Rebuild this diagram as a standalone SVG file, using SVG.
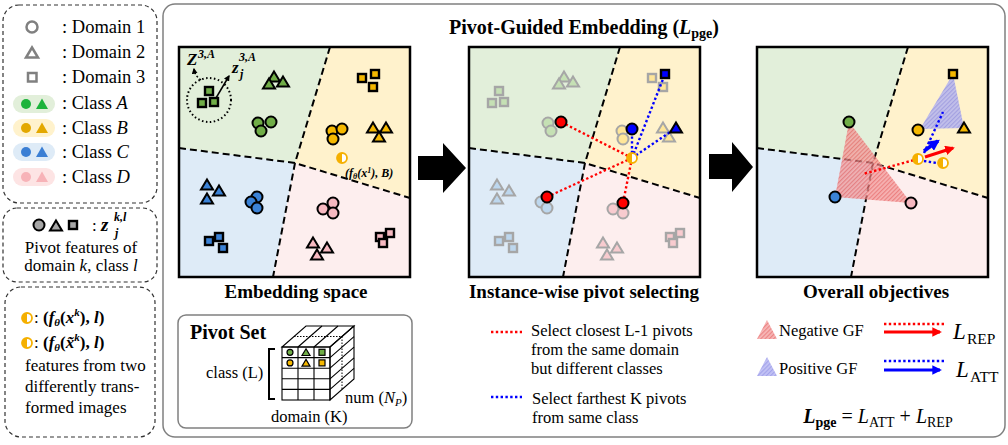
<svg xmlns="http://www.w3.org/2000/svg" xmlns:xlink="http://www.w3.org/1999/xlink" width="1008" height="445" viewBox="0 0 1008 445">
<style>
text{font-family:"Liberation Serif","Times New Roman",serif;fill:#000}
.b{font-weight:bold}
.i{font-style:italic}
.k{stroke:#000;stroke-width:2}
.g{fill:#70ad47}.y{fill:#f5b800}.bl{fill:#3b82d6}.p{fill:#f6b8c0}
.f{stroke:#a6a6a6;stroke-width:2}
.fg{fill:#c5e0b4}.fy{fill:#ffe699}.fb{fill:#bdd7ee}.fp{fill:#f8cbcf}
.rd{fill:none;stroke:#f00;stroke-width:2.4;stroke-dasharray:2.4 2.4}
.bd{fill:none;stroke:#00f;stroke-width:2.4;stroke-dasharray:2.4 2.4}
.dl{fill:none;stroke:#333;stroke-width:1.2;stroke-dasharray:4 3}
.frame{fill:none;stroke:#000;stroke-width:2.5}
.gl{fill:none;stroke:#000;stroke-width:1.1}
</style>
<defs>
<circle id="c" r="5.5"/>
<path id="t" d="M0,-5.5 L6,4.5 L-6,4.5 Z"/>
<rect id="s" x="-4" y="-4" width="8" height="8" stroke-width="2.4"/>
<g id="h"><circle r="5" fill="#fff"/><path d="M0,-5 A5,5 0 0 0 0,5 Z" fill="#f5b000"/><circle r="5" fill="none" stroke="#f5b000" stroke-width="1.8"/></g>
<g id="bg">
<polygon points="0,0 151,0 116,116 0,101" fill="#e2efda"/>
<polygon points="151,0 231,0 231,151 116,116" fill="#fff2cc"/>
<polygon points="0,101 116,116 94,230 0,230" fill="#deebf7"/>
<polygon points="116,116 231,151 231,230 94,230" fill="#fdeeee"/>
<path d="M151,0 L116,116 L94,230 M0,101 L116,116 L231,151" fill="none" stroke="#000" stroke-width="2" stroke-dasharray="7 4"/>
</g>
<pattern id="hr" width="3" height="3" patternUnits="userSpaceOnUse" patternTransform="rotate(45)"><rect width="3" height="3" fill="#f4a0a0"/><rect width="1.2" height="3" fill="#e65c5c"/></pattern>
<pattern id="hb" width="3" height="3" patternUnits="userSpaceOnUse" patternTransform="rotate(45)"><rect width="3" height="3" fill="#b4b4f2"/><rect width="1.2" height="3" fill="#8c8ce6"/></pattern>
<marker id="ar" viewBox="0 0 10 10" refX="8" refY="5" markerWidth="3.2" markerHeight="3.2" orient="auto"><path d="M0,0 L10,5 L0,10 Z" fill="#f00"/></marker>
<marker id="ab" viewBox="0 0 10 10" refX="8" refY="5" markerWidth="3.2" markerHeight="3.2" orient="auto"><path d="M0,0 L10,5 L0,10 Z" fill="#00f"/></marker>
<marker id="ak" viewBox="0 0 10 10" refX="8" refY="5" markerWidth="4" markerHeight="4" orient="auto"><path d="M0,0 L10,5 L0,10 Z" fill="#000"/></marker>
</defs>

<rect width="1008" height="445" fill="#fff"/>

<!-- left legends -->
<g id="legend-domains-classes">
<rect class="dl" x="3" y="5" width="154" height="198" rx="16"/>
<use href="#c" x="32" y="27" fill="#fff" stroke="#808080" stroke-width="2.5"/>
<path d="M32,47.5 L38,57.5 L26,57.5 Z" fill="#fff" stroke="#808080" stroke-width="2.5"/>
<rect x="28" y="73" width="8.5" height="8.5" fill="#fff" stroke="#808080" stroke-width="2.5"/>
<text x="62" y="33" font-size="18.5">: Domain 1</text>
<text x="62" y="58" font-size="18.5">: Domain 2</text>
<text x="62" y="83" font-size="18.5">: Domain 3</text>
<rect x="13" y="95" width="42" height="18" rx="9" fill="#e2efda"/>
<circle cx="26" cy="104" r="5" fill="#1db33c"/><path d="M42,98.5 L48,109 L36,109 Z" fill="#1db33c"/>
<rect x="13" y="119" width="42" height="18" rx="9" fill="#fff2cc"/>
<circle cx="26" cy="128" r="5" fill="#e3a800"/><path d="M42,122.5 L48,133 L36,133 Z" fill="#e3a800"/>
<rect x="13" y="143" width="42" height="18" rx="9" fill="#deebf7"/>
<circle cx="26" cy="152" r="5" fill="#3b7fd4"/><path d="M42,146.5 L48,157 L36,157 Z" fill="#3b7fd4"/>
<rect x="13" y="168" width="42" height="18" rx="9" fill="#fde4e4"/>
<circle cx="26" cy="177" r="5" fill="#f7b3b8"/><path d="M42,171.5 L48,182 L36,182 Z" fill="#f7b3b8"/>
<text x="62" y="109" font-size="18.5">: Class <tspan class="i">A</tspan></text>
<text x="62" y="134" font-size="18.5">: Class <tspan class="i">B</tspan></text>
<text x="62" y="158" font-size="18.5">: Class <tspan class="i">C</tspan></text>
<text x="62" y="183" font-size="18.5">: Class <tspan class="i">D</tspan></text>
</g>

<g id="legend-pivot">
<rect class="dl" x="3" y="208" width="154" height="74" rx="14"/>
<use href="#c" x="39" y="225" fill="#a6a6a6" class="k"/>
<use href="#t" x="56" y="226" fill="#a6a6a6" class="k"/>
<use href="#s" x="73" y="225" fill="#a6a6a6" class="k"/>
<text x="92" y="231" font-size="17">: <tspan class="b i" font-size="19">z</tspan></text>
<text x="114" y="221" font-size="12" class="b i">k,l</text>
<text x="115" y="237" font-size="12" class="b i">j</text>
<text x="81" y="253" font-size="17" text-anchor="middle">Pivot features of</text>
<text x="81" y="271" font-size="17" text-anchor="middle">domain <tspan class="i">k</tspan>, class <tspan class="i">l</tspan></text>
</g>

<g id="legend-features">
<rect class="dl" x="5" y="287" width="150" height="150" rx="16"/>
<use href="#h" x="27" y="318"/>
<use href="#h" x="27" y="343"/>
<text x="34" y="323" font-size="17">: <tspan class="b">(</tspan><tspan class="b i">f</tspan><tspan class="b i" font-size="11" dy="3">θ</tspan><tspan class="b" dy="-3">(</tspan><tspan class="b i">x</tspan><tspan class="b i" font-size="11" dy="-7">k</tspan><tspan class="b" dy="7">), </tspan><tspan class="b i">l</tspan><tspan class="b">)</tspan></text>
<text x="34" y="348" font-size="17">: <tspan class="b">(</tspan><tspan class="b i">f</tspan><tspan class="b i" font-size="11" dy="3">θ</tspan><tspan class="b" dy="-3">(</tspan><tspan class="b i">x̃</tspan><tspan class="b i" font-size="11" dy="-7">k</tspan><tspan class="b" dy="7">), </tspan><tspan class="b i">l</tspan><tspan class="b">)</tspan></text>
<text x="25" y="371" font-size="17">features from two</text>
<text x="25" y="392" font-size="17">differently trans-</text>
<text x="25" y="413" font-size="17">formed images</text>
</g>

<!-- main frame -->
<rect x="163" y="4" width="842" height="433" rx="12" fill="#fff" stroke="#808080" stroke-width="1.5"/>
<text x="584" y="34" text-anchor="middle" font-size="20" class="b">Pivot-Guided Embedding (<tspan class="i">L</tspan><tspan font-size="14" dy="4">pge</tspan><tspan dy="-4">)</tspan></text>

<!-- connectors: big arrows -->
<g id="connectors">
<polygon points="418,156 443,156 443,143 466,168 443,193 443,180 418,180" fill="#000"/>
<polygon points="709,154 732,154 732,142 753,167 732,192 732,179 709,179" fill="#000"/>
</g>

<!-- Panel 1 -->
<g id="panel-embedding" transform="translate(179,47)">
<use href="#bg"/>
<circle cx="30" cy="53" r="22" fill="none" stroke="#000" stroke-width="2" stroke-dasharray="1.5 2.5"/>
<g class="k g"><use href="#s" x="30" y="44"/><use href="#s" x="23" y="56"/><use href="#s" x="35" y="55"/>
<use href="#t" x="95" y="30"/><use href="#t" x="90" y="37"/><use href="#t" x="104" y="35"/>
<use href="#c" x="79" y="76"/><use href="#c" x="92" y="75"/><use href="#c" x="82" y="84"/></g>
<g class="k y"><use href="#s" x="183" y="31"/><use href="#s" x="196" y="27"/><use href="#s" x="194" y="40"/>
<use href="#c" x="153" y="84"/><use href="#c" x="163" y="82"/><use href="#c" x="154" y="92"/>
<use href="#t" x="194" y="81"/><use href="#t" x="207" y="81"/><use href="#t" x="200" y="90"/></g>
<g class="k bl"><use href="#t" x="28" y="138"/><use href="#t" x="40" y="144"/><use href="#t" x="28" y="152"/>
<use href="#c" x="78" y="150"/><use href="#c" x="72" y="155"/><use href="#c" x="78" y="161"/>
<use href="#s" x="30" y="194"/><use href="#s" x="40" y="190"/><use href="#s" x="44" y="201"/></g>
<g class="k p"><use href="#c" x="154" y="156"/><use href="#c" x="144" y="162"/><use href="#c" x="154" y="166"/>
<use href="#t" x="134" y="196"/><use href="#t" x="148" y="201"/><use href="#t" x="138" y="208"/>
<use href="#s" x="201" y="190"/><use href="#s" x="211" y="186"/><use href="#s" x="204" y="196"/></g>
<use href="#h" x="163" y="111"/>
<text x="166" y="130" font-size="12" class="b i">(f<tspan font-size="8" dy="2">θ</tspan><tspan dy="-2">(x</tspan><tspan font-size="8" dy="-4">1</tspan><tspan dy="4">), B)</tspan></text>
<path d="M22,33 Q16,29 15,22" fill="none" stroke="#000" stroke-width="1.5" stroke-dasharray="2 2" marker-end="url(#ak)"/>
<line x1="37" y1="51" x2="50" y2="29" stroke="#000" stroke-width="1.5" marker-end="url(#ak)"/>
<text x="8" y="18" font-size="17" class="b i">Z</text>
<text x="19" y="11" font-size="12" class="b i">3,A</text>
<text x="53" y="26" font-size="17" class="b i">z</text>
<text x="60" y="14" font-size="12" class="b i">3,A</text>
<text x="61" y="31" font-size="12" class="b i">j</text>
<rect class="frame" width="231" height="230"/>
</g>
<text x="296" y="298" text-anchor="middle" font-size="19" class="b">Embedding space</text>

<!-- Panel 2 -->
<g id="panel-selecting" transform="translate(469,47)">
<use href="#bg"/>
<g class="f fg"><use href="#s" x="30" y="44"/><use href="#s" x="23" y="56"/><use href="#s" x="35" y="55"/>
<use href="#t" x="95" y="30"/><use href="#t" x="90" y="37"/><use href="#t" x="104" y="35"/>
<use href="#c" x="79" y="76"/><use href="#c" x="82" y="84"/></g>
<g class="f fy"><use href="#s" x="183" y="31"/><use href="#s" x="194" y="40"/>
<use href="#c" x="153" y="84"/><use href="#c" x="154" y="92"/>
<use href="#t" x="194" y="81"/><use href="#t" x="200" y="90"/></g>
<g class="f fb"><use href="#t" x="28" y="138"/><use href="#t" x="40" y="144"/><use href="#t" x="28" y="152"/>
<use href="#c" x="72" y="155"/><use href="#c" x="78" y="161"/>
<use href="#s" x="30" y="194"/><use href="#s" x="40" y="190"/><use href="#s" x="44" y="201"/></g>
<g class="f fp"><use href="#c" x="144" y="162"/><use href="#c" x="154" y="166"/>
<use href="#t" x="134" y="196"/><use href="#t" x="148" y="201"/><use href="#t" x="138" y="208"/>
<use href="#s" x="201" y="190"/><use href="#s" x="211" y="186"/><use href="#s" x="204" y="196"/></g>
<path class="rd" d="M163,111 L92,75 M163,111 L78,150 M163,111 L154,156"/>
<path class="bd" d="M163,111 L196,27 M163,111 L163,82 M163,111 L207,81"/>
<g class="k" fill="#f00"><use href="#c" x="92" y="75"/><use href="#c" x="78" y="150"/><use href="#c" x="154" y="156"/></g>
<g class="k" fill="#00f"><use href="#s" x="196" y="27"/><use href="#c" x="163" y="82"/><use href="#t" x="207" y="81"/></g>
<use href="#h" x="163" y="111"/>
<rect class="frame" width="231" height="230"/>
</g>
<text x="584" y="298" text-anchor="middle" font-size="19" class="b">Instance-wise pivot selecting</text>

<!-- Panel 3 -->
<g id="panel-objectives" transform="translate(757,47)">
<use href="#bg"/>
<polygon points="92,75 78,150 154,156" fill="url(#hr)" opacity="0.75"/>
<polygon points="196,27 163,82 207,81" fill="url(#hb)" opacity="0.8"/>
<path class="rd" d="M161,112 L106,127"/>
<path class="bd" d="M167,106 L186,65 M167,114 L180,116"/>
<line x1="167" y1="104" x2="181" y2="94" stroke="#00f" stroke-width="3.5" marker-end="url(#ab)"/>
<line x1="168" y1="110" x2="196" y2="101" stroke="#f00" stroke-width="3" marker-end="url(#ar)"/>
<use href="#c" x="92" y="75" class="k g"/>
<use href="#c" x="78" y="150" class="k bl"/>
<use href="#c" x="154" y="156" class="k p"/>
<use href="#s" x="196" y="27" class="k y"/>
<use href="#c" x="161" y="83" class="k y"/>
<use href="#t" x="207" y="81" class="k y"/>
<use href="#h" x="161" y="112"/>
<use href="#h" x="186" y="116"/>
<rect class="frame" width="231" height="230"/>
</g>
<text x="876" y="298" text-anchor="middle" font-size="19" class="b">Overall objectives</text>

<!-- Pivot set -->
<g id="pivot-set">
<rect x="178" y="315" width="234" height="113" rx="8" fill="#fff" stroke="#808080" stroke-width="1.5"/>
<text x="190" y="339" font-size="20" class="b">Pivot Set</text>
<polygon points="282,347 330,347 354,326 306,326" fill="#e4ecf4" class="gl"/>
<path class="gl" d="M298,347 L322,326 M314,347 L338,326"/>
<line x1="294" y1="336.5" x2="342" y2="336.5" stroke="#000" stroke-width="1" stroke-dasharray="1.5 1.5"/>
<polygon points="330,347 354,326 354,379 330,400" fill="#aab4be" class="gl"/>
<path class="gl" d="M330,357.6 L354,336.6 M330,368.2 L354,347.2 M330,378.8 L354,357.8 M330,389.4 L354,368.4"/>
<line x1="342" y1="336.5" x2="342" y2="389.5" stroke="#000" stroke-width="1" stroke-dasharray="1.5 1.5"/>
<rect x="282" y="347" width="48" height="53" fill="#dce6f1" class="gl"/>
<path class="gl" d="M298,347 V400 M314,347 V400 M282,357.6 H330 M282,368.2 H330 M282,378.8 H330 M282,389.4 H330"/>
<g stroke="#000" stroke-width="1.2">
<circle cx="290" cy="352.3" r="3" fill="#70ad47"/><path d="M306,348.8 L310,355.5 L302,355.5 Z" fill="#70ad47"/><rect x="319" y="349.3" width="6" height="6" fill="#70ad47"/>
<circle cx="290" cy="362.9" r="3" fill="#f5b800"/><path d="M306,359.4 L310,366.1 L302,366.1 Z" fill="#f5b800"/><rect x="319" y="359.9" width="6" height="6" fill="#f5b800"/>
</g>
<path d="M275,349 H269 V399 H275" fill="none" stroke="#000" stroke-width="2"/>
<text x="206" y="378" font-size="16.5">class (L)</text>
<text x="345" y="403" font-size="16.5">num (<tspan class="i">N</tspan><tspan class="i" font-size="11" dy="3">P</tspan><tspan dy="-3">)</tspan></text>
<text x="271" y="422" font-size="16.5">domain (K)</text>
</g>

<!-- legend selecting -->
<g id="legend-selecting">
<line class="rd" x1="491" y1="332" x2="522" y2="332"/>
<text x="531" y="336" font-size="16.5">Select closest L-1 pivots</text>
<text x="531" y="355" font-size="16.5">from the same domain</text>
<text x="531" y="374" font-size="16.5">but different classes</text>
<line class="bd" x1="491" y1="397" x2="522" y2="397"/>
<text x="532" y="404" font-size="16.5">Select farthest K pivots</text>
<text x="532" y="423" font-size="16.5">from same class</text>
</g>

<!-- legend objectives -->
<g id="legend-objectives">
<polygon points="757,339 767,320 777,339" fill="url(#hr)" opacity="0.75"/>
<text x="779" y="336" font-size="16.5">Negative GF</text>
<line class="rd" x1="884" y1="324" x2="944" y2="324" stroke-width="2.6"/>
<line x1="884" y1="332" x2="940" y2="332" stroke="#f00" stroke-width="3" marker-end="url(#ar)"/>
<text x="953" y="339" font-size="23" class="i">L</text>
<text x="967" y="344" font-size="15.5">REP</text>
<polygon points="757,376 767,357 777,376" fill="url(#hb)" opacity="0.8"/>
<text x="779" y="374" font-size="16.5">Positive GF</text>
<line class="bd" x1="884" y1="361" x2="944" y2="361" stroke-width="2.6"/>
<line x1="884" y1="370" x2="940" y2="370" stroke="#00f" stroke-width="3" marker-end="url(#ab)"/>
<text x="956" y="377" font-size="23" class="i">L</text>
<text x="970" y="382" font-size="15.5">ATT</text>
<text x="878" y="423" text-anchor="middle" font-size="20"><tspan class="b i">L</tspan><tspan class="b" font-size="14" dy="4">pge</tspan><tspan dy="-4"> = </tspan><tspan class="i">L</tspan><tspan font-size="14" dy="4">ATT</tspan><tspan dy="-4"> + </tspan><tspan class="i">L</tspan><tspan font-size="14" dy="4">REP</tspan></text>
</g>
</svg>
